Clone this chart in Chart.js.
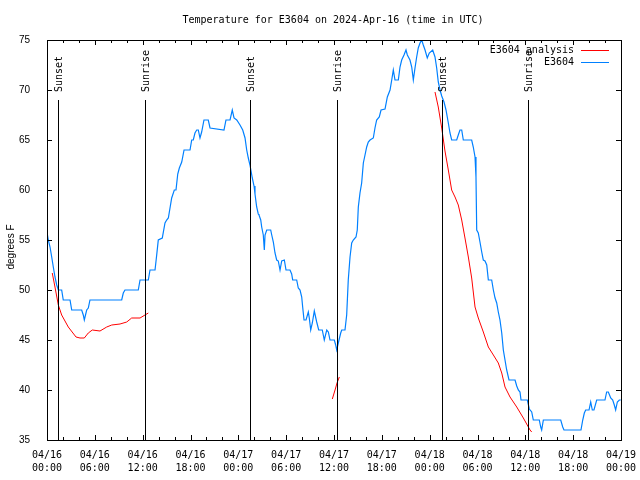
<!DOCTYPE html>
<html>
<head>
<meta charset="utf-8">
<script src="https://cdn.jsdelivr.net/npm/chart.js@4/dist/chart.umd.min.js"></script>
<style>
html,body{margin:0;padding:0;background:#fff;}
canvas{display:block;}
</style>
</head>
<body>
<canvas id="c" width="640" height="480"></canvas>
<script>
// ---- DATA ----
const chartTitle = "Temperature for E3604 on 2024-Apr-16 (time in UTC)";
const yAxisTitle = "degrees F";
// hours since 2024-04-16 00:00 UTC
const obsHours = [0.0,0.16,0.38,0.59,0.79,1.0,1.22,1.42,1.84,2.04,2.89,3.1,4.35,4.55,4.68,4.98,5.18,5.39,9.37,9.57,9.78,11.45,11.67,12.71,12.92,13.55,13.76,13.96,14.46,14.8,15.01,15.22,15.43,15.64,15.97,16.18,16.4,16.6,16.9,17.19,17.94,18.15,18.35,18.56,18.78,18.98,19.19,19.4,19.69,20.23,20.45,22.2,22.45,22.96,23.24,23.46,23.8,24.21,24.55,24.84,25.05,25.25,25.46,25.75,25.97,26.09,26.3,26.5,26.59,26.81,26.93,27.13,27.26,27.35,27.56,28.06,28.19,28.39,28.6,28.81,29.01,29.23,29.44,29.77,29.98,30.48,30.69,30.82,31.32,31.52,31.74,31.95,32.07,32.24,32.49,32.78,32.9,33.08,33.28,33.53,33.83,34.08,34.53,34.78,35.09,35.29,35.5,36.04,36.21,36.34,36.57,36.84,36.97,37.38,37.59,37.79,38.01,38.22,38.42,38.76,38.92,39.05,39.26,39.47,39.68,39.89,40.1,40.3,40.52,40.93,41.14,41.35,41.68,41.9,42.4,42.69,43.03,43.24,43.44,43.65,44.07,44.28,44.49,44.78,45.03,45.2,45.53,45.75,45.95,46.16,46.37,46.57,46.79,47.0,47.2,47.42,47.7,47.95,48.38,48.67,48.88,49.08,49.3,49.51,49.8,50.05,50.34,50.55,50.76,51.39,51.59,51.8,52.02,52.22,53.27,53.47,53.69,53.81,53.9,54.1,54.31,54.53,54.73,54.94,55.16,55.36,55.78,55.99,56.2,56.41,56.61,56.82,57.04,57.24,57.45,57.66,57.95,58.71,58.92,59.12,59.33,59.46,60.25,60.5,60.8,61.0,61.75,61.93,62.05,62.26,64.44,64.69,64.85,66.98,67.2,67.4,67.57,67.99,68.2,68.4,68.61,68.95,69.99,70.2,70.41,70.71,70.96,71.16,71.33,71.54,71.79,71.97];
const obsTemps = [55.8,55,54.3,53.3,52.3,51.3,50.5,50,50,49,49,48,48,47.5,47,48,48.2,49,49,49.7,50,50,51,51,52,52,53.5,55,55.2,56.7,57,57.2,58.2,59.2,60,60,61.6,62.2,62.8,64,64,65,65,65.7,66,66,65.2,65.8,67,67,66.2,66,67,67,68,67.2,67,66.5,66,65.2,64,63.2,62.5,61.2,60.4,59.6,58.3,57.6,57.5,57,56.3,55.5,54,55.5,56,56,55.5,54.8,53.7,53,52.9,52,52.9,53,52,52,51.6,51,51,50.2,50,49.3,48.3,47,47,47.8,47.2,46,46.7,47.9,46.8,46,46,45,46,45.8,45,45,44.5,44,44.8,45.7,46,46,47.5,51,53.3,54.7,55,55.3,56,58.3,59.7,60.7,62.7,63.5,64.3,64.8,65,65.2,66.2,67,67.3,68,68.1,69.3,70,71,72,71,71,72.3,73,73.5,74,73.5,73,72.3,71,72.2,73.3,74.2,74.7,75,74.5,74,73.2,73.7,74,73.3,72.2,70.8,70,69.4,68.8,68,66.7,65.7,65,65,65.5,66,66,65,65,64.3,63.3,61.3,56,55.7,54.8,53.8,53,52.9,52.5,51,51,50,49.2,48.7,47.8,47,45.7,44,43,42,41,41,40.4,40,39.8,39,39,38.1,37.8,37,37,36.3,36,37,37,36.3,36,36,37,37.7,38,38,38.8,38,38,39,39,39.8,39.8,39.2,39,38.5,38,38.8,39,39];
// analysis series (null = gap)
const anaHours = [0.66,1.0,1.42,1.84,2.67,3.64,4.14,4.68,5.18,5.68,6.65,7.49,8.12,9.16,10.0,10.62,11.67,12.29,12.71,24.0,35.79,36.13,36.38,36.67,42.0,48.67,49.08,49.51,49.92,50.34,50.76,51.18,51.59,52.02,52.43,52.85,53.27,53.69,54.1,54.73,55.36,55.99,56.61,57.04,57.45,58.08,58.92,59.75,60.59,60.8];
const anaTemps = [51.7,50.3,48.5,47.5,46.3,45.3,45.2,45.2,45.7,46,45.9,46.3,46.5,46.6,46.8,47.2,47.2,47.5,47.7,null,39.1,40,40.7,41.3,null,69.8,68.3,66.2,63.9,62,60,59.3,58.5,57,55.2,53.3,51.2,48.3,47.2,45.8,44.3,43.5,42.7,41.7,40.3,39.3,38.3,37.2,36,35.8];
const sunHours = [1.38,12.3,25.5,36.4,49.6,60.3];
const sunLabels = ["Sunset","Sunrise","Sunset","Sunrise","Sunset","Sunrise"];
const xTickHours = [0,6,12,18,24,30,36,42,48,54,60,66,72];
const xTickDates = ["04/16","04/16","04/16","04/16","04/17","04/17","04/17","04/17","04/18","04/18","04/18","04/18","04/19"];
const xTickTimes = ["00:00","06:00","12:00","18:00","00:00","06:00","12:00","18:00","00:00","06:00","12:00","18:00","00:00"];
const seriesNames = ["E3604 analysis","E3604"];

// ---- CHART ----
const MONO = "'DejaVu Sans Mono', monospace";
const SANS = "'Liberation Sans', Arial, sans-serif";
const RED = "rgb(255,0,0)";
const BLUE = "rgb(0,128,255)";

const obsData = obsHours.map((h,i)=>({x:h,y:obsTemps[i]}));
const anaData = anaHours.map((h,i)=>({x:h,y:anaTemps[i]}));

const framePlugin = {
  id:'frame',
  afterDatasetsDraw(chart){
    const {ctx, chartArea:a, scales:{x,y}} = chart;
    ctx.save();
    ctx.strokeStyle='#000'; ctx.lineWidth=1;
    ctx.fillStyle='#000';
    ctx.font='10px '+MONO;
    sunHours.forEach((h,i)=>{
      const px=Math.round(x.getPixelForValue(h))+0.5;
      ctx.beginPath(); ctx.moveTo(px,100); ctx.lineTo(px,a.bottom); ctx.stroke();
      ctx.save();
      ctx.translate(px+1,92);
      ctx.rotate(-Math.PI/2);
      ctx.textAlign='left'; ctx.textBaseline='middle';
      ctx.fillText(sunLabels[i],0,0);
      ctx.restore();
    });
    ctx.strokeRect(Math.round(a.left)+0.5, Math.round(a.top)+0.5, Math.round(a.right-a.left), Math.round(a.bottom-a.top));
    for(let h=0; h<=72; h+=2){
      const px=Math.round(x.getPixelForValue(h))+0.5;
      const len = (h%6===0)?5:3;
      ctx.beginPath();
      ctx.moveTo(px,a.bottom); ctx.lineTo(px,a.bottom-len);
      ctx.moveTo(px,a.top); ctx.lineTo(px,a.top+len);
      ctx.stroke();
    }
    for(let v=35; v<=75; v+=5){
      const py=Math.round(y.getPixelForValue(v))+0.5;
      ctx.beginPath();
      ctx.moveTo(a.left,py); ctx.lineTo(a.left+5,py);
      ctx.moveTo(a.right,py); ctx.lineTo(a.right-5,py);
      ctx.stroke();
    }
    ctx.font='10px '+MONO;
    ctx.textAlign='right'; ctx.textBaseline='middle';
    ctx.fillStyle='#000';
    ctx.fillText(seriesNames[0],574,50);
    ctx.fillText(seriesNames[1],574,62);
    ctx.lineWidth=1;
    ctx.strokeStyle=RED; ctx.beginPath(); ctx.moveTo(581,50.5); ctx.lineTo(609,50.5); ctx.stroke();
    ctx.strokeStyle=BLUE; ctx.beginPath(); ctx.moveTo(581,62.5); ctx.lineTo(609,62.5); ctx.stroke();
    ctx.fillStyle='#000';
    ctx.textAlign='center'; ctx.textBaseline='middle';
    ctx.fillText(chartTitle,333,20);
    ctx.save();
    ctx.translate(11,247); ctx.rotate(-Math.PI/2);
    ctx.font='10px '+SANS;
    ctx.textAlign='center'; ctx.textBaseline='middle';
    ctx.fillText(yAxisTitle,0,0);
    ctx.restore();
    ctx.restore();
  }
};

new Chart(document.getElementById('c'),{
  type:'line',
  data:{
    datasets:[
      {label:seriesNames[0],data:anaData,borderColor:RED,borderWidth:1,pointRadius:0,tension:0,spanGaps:false,fill:false},
      {label:seriesNames[1],data:obsData,borderColor:BLUE,borderWidth:1.2,pointRadius:0,tension:0,fill:false}
    ]
  },
  plugins:[framePlugin],
  options:{
    responsive:false,
    animation:false,
    devicePixelRatio:1,
    layout:{padding:{left:0,right:19,top:40,bottom:0}},
    plugins:{legend:{display:false},title:{display:false},tooltip:{enabled:false}},
    scales:{
      x:{
        type:'linear',min:0,max:72,
        grid:{display:false},
        border:{display:false},
        afterFit(s){s.height=40; s.paddingLeft=0; s.paddingRight=0;},
        afterBuildTicks(s){ s.ticks = xTickHours.map(v=>({value:v})); },
        ticks:{
          autoSkip:false,maxRotation:0,minRotation:0,padding:1,color:'#000',
          font:{family:MONO,size:10,lineHeight:1.3},
          callback(v){ const i=xTickHours.indexOf(v); return i>=0?[xTickDates[i],xTickTimes[i]]:''; }
        }
      },
      y:{
        min:35,max:75,
        grid:{display:false},
        border:{display:false},
        afterFit(s){s.width=47;},
        ticks:{stepSize:5,padding:9,color:'#000',font:{family:SANS,size:10}}
      }
    }
  }
});
</script>
</body>
</html>
